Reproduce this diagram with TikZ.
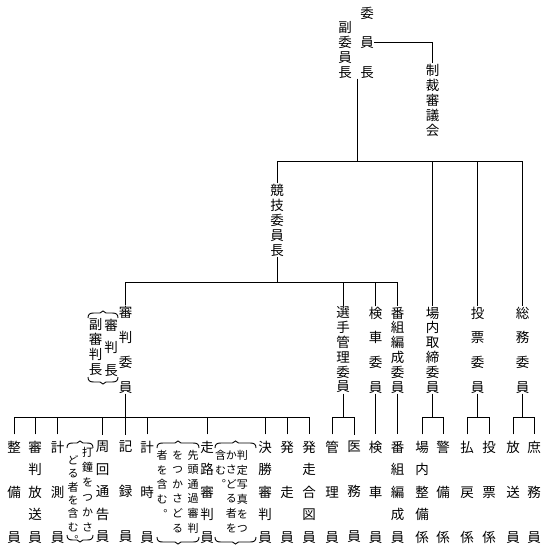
\documentclass[tikz,border=0pt]{standalone}
\usepackage{fontspec}
\newfontfamily\jp[RawFeature=+vert]{Noto Sans CJK JP}
\usepackage{tikz}
\usetikzlibrary{calc, positioning}

% kakko: x1, x2, top, bottom
\newcommand{\kakko}[4]{%
  \draw (#1,#3+5) .. controls (#1,#3+1) and (#1+2,#3) .. (#1+6,#3)
    -- ({(#1+#2)/2-3},#3) -- ({(#1+#2)/2},#3-2) -- ({(#1+#2)/2+3},#3)
    -- (#2-6,#3) .. controls (#2-2,#3) and (#2,#3+1) .. (#2,#3+5);
  \draw (#1,#4-5) .. controls (#1,#4-1) and (#1+2,#4) .. (#1+6,#4)
    -- ({(#1+#2)/2-3},#4) -- ({(#1+#2)/2},#4+2) -- ({(#1+#2)/2+3},#4)
    -- (#2-6,#4) .. controls (#2-2,#4) and (#2,#4-1) .. (#2,#4-5);
}

\tikzset{
  tate/.style={align=center, inner sep=0pt, font=\jp\fontsize{13.5}{#1}\selectfont},
  kakari/.style={tate=#1, inner ysep=6pt},
  chu/.style={align=center, inner sep=0pt, font=\jp\fontsize{11}{#1}\selectfont},
}

\begin{document}
\begin{tikzpicture}[x=1pt, y=-1pt, line width=0.9pt]
    \useasboundingbox (0,0) rectangle (548,550);

    % 1. Trên cùng
    \node[tate=29.5] (iinchou) at (367,42.5) {委\\員\\長};
    \node[tate=14.7] (fuku) at (345,50) {副\\委\\員\\長};
    \node[tate=15] (seisai) at (432.5,100) {制\\裁\\審\\議\\会};
    \node[tate=15] (kyogi) at (277,220) {競\\技\\委\\員\\長};

    % 2. Hàng giữa
    \node[tate=25] (shinpan) at (125.5,349.5) {審\\判\\委\\員};
    \node[tate=22.5] (shinpanchou) at (111,347.5) {審\\判\\長};
    \node[tate=15] (fukushinpanchou) at (95.5,347.5) {副\\審\\判\\長};
    \kakko{88}{118}{313}{382}
    \node[tate=14.8] (senshu) at (343,350) {選\\手\\管\\理\\委\\員};
    \node[tate=24.67] (kensha) at (375.5,350) {検\\車\\委\\員};
    \node[tate=14.8] (bangumi) at (397.5,350) {番\\組\\編\\成\\委\\員};
    \node[tate=14.8] (jonai) at (432.5,350) {場\\内\\取\\締\\委\\員};
    \node[tate=24.67] (tohyo) at (477.5,350) {投\\票\\委\\員};
    \node[tate=24.67] (somu) at (522.5,350) {総\\務\\委\\員};

    % 3. Hàng dưới
    \node[kakari=45] (seibi) at (14,492) {整\\備\\員};
    \node[kakari=22.5] (shinpanhoso) at (35,492) {審\\判\\放\\送\\員};
    \node[kakari=45] (keisoku) at (57.5,492) {計\\測\\員};
    \node[kakari=22.5] (shukai) at (102.5,492) {周\\回\\通\\告\\員};
    \node[kakari=45] (kiroku) at (125.5,492) {記\\録\\員};
    \node[kakari=45] (keiji) at (147,492) {計\\時\\員};
    \node[kakari=22.5] (soro) at (207,492) {走\\路\\審\\判\\員};
    \node[kakari=22.5] (kessho) at (265,492) {決\\勝\\審\\判\\員};
    \node[kakari=45] (hasso) at (287,492) {発\\走\\員};
    \node[kakari=22.5] (aizu) at (309,492) {発\\走\\合\\図\\員};
    \node[kakari=45] (kanri) at (332,492) {管\\理\\員};
    \node[kakari=45] (imu) at (354,492) {医\\務\\員};
    \node[kakari=45] (kenshain) at (375.5,492) {検\\車\\員};
    \node[kakari=22.5] (bangumiin) at (397.5,492) {番\\組\\編\\成\\員};
    \node[kakari=22.5] (jonaiseibi) at (422,492) {場\\内\\整\\備\\係};
    \node[kakari=45] (keibi) at (443,492) {警\\備\\係};
    \node[kakari=45] (haraimodoshi) at (467,492) {払\\戻\\係};
    \node[kakari=45] (tohyogakari) at (489,492) {投\\票\\係};
    \node[kakari=45] (hosoin) at (513,492) {放\\送\\員};
    \node[kakari=45] (shomu) at (534,492) {庶\\務\\員};

    % 4. Chú thích trong ngoặc
    \node[chu=15] (chu1a) at (87.5,489.5) {打\\鐘\\を\\つ\\か\\さ};
    \node[chu=13.3] (chu1b) at (73,500) {ど\\る\\者\\を\\含\\む\\。};
    \kakko{67}{93}{443}{540}
    \node[chu=14.6] (chu2a) at (193,491.5) {先\\頭\\通\\過\\審\\判};
    \node[chu=14.6] (chu2b) at (177.5,491.5) {を\\つ\\か\\さ\\ど\\る};
    \node[chu=14.6] (chu2c) at (162,484.2) {者\\を\\含\\む\\。};
    \kakko{157}{199}{443}{542}
    \node[chu=14.6] (chu3a) at (242.3,491.5) {判\\定\\写\\真\\を\\つ};
    \node[chu=14.6] (chu3b) at (231.3,491.5) {か\\さ\\ど\\る\\者\\を};
    \node[chu=14.6] (chu3c) at (220.7,469.6) {含\\む\\。};
    \kakko{215}{256}{443}{542}

    % 5. Đường nối
    \coordinate (b1) at (0,161);
    \coordinate (b2) at (0,282);
    \coordinate (b3) at (0,417);
    \coordinate (ue) at ($(fuku.south)!0.55!(iinchou.south)$);
    \draw (iinchou.east) -| (seisai.north);
    \draw (ue) -- (ue |- b1);
    \draw (kyogi.north) -- (kyogi.north |- b1) -- (somu.north |- b1) -- (somu.north);
    \draw (jonai.north) -- (jonai.north |- b1);
    \draw (tohyo.north) -- (tohyo.north |- b1);

    \draw (kyogi.south) -- (kyogi.south |- b2);
    \draw (shinpan.north) -- (shinpan.north |- b2) -- (bangumi.north |- b2) -- (bangumi.north);
    \draw (senshu.north) -- (senshu.north |- b2);
    \draw (kensha.north) -- (kensha.north |- b2);

    \draw (shinpan.south) -- (kiroku.north);
    \draw (seibi.north) -- (seibi.north |- b3) -- (aizu.north |- b3) -- (aizu.north);
    \foreach \n in {shinpanhoso, keisoku, shukai, keiji, soro, kessho, hasso}
        \draw (\n.north) -- (\n.north |- b3);
    \draw (kensha.south) -- (kenshain.north);
    \draw (bangumi.south) -- (bangumiin.north);
    \foreach \p/\a/\b in {senshu/kanri/imu, jonai/jonaiseibi/keibi,
                          tohyo/haraimodoshi/tohyogakari, somu/hosoin/shomu} {
        \draw (\p.south) -- (\p.south |- b3);
        \draw (\a.north) -- (\a.north |- b3) -- (\b.north |- b3) -- (\b.north);
    }

\end{tikzpicture}
\end{document}
